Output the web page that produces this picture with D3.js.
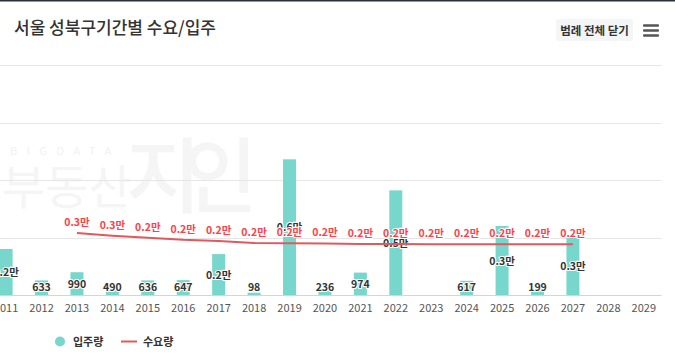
<!DOCTYPE html>
<html><head><meta charset="utf-8">
<script src="https://cdn.jsdelivr.net/npm/d3@7/dist/d3.min.js"></script>
<style>
html,body{margin:0;padding:0;background:#fff;}
svg{display:block;font-family:"Noto Sans CJK KR","Noto Sans",sans-serif;}
</style></head>
<body>
<svg id="c" width="675" height="358"></svg>
<script>
const years = ["2011","2012","2013","2014","2015","2016","2017","2018","2019","2020","2021","2022","2023","2024","2025","2026","2027","2028","2029"];
const supply = [2000, 633, 990, 490, 636, 647, 1780, 98, 5900, 236, 974, 4550, null, 617, 3000, 199, 2560, null, null];
const demand = [null, null, 2700, 2580, 2490, 2400, 2350, 2260, 2250, 2240, 2220, 2220, 2210, 2210, 2210, 2210, 2210, null, null];
const yTicks = [0, 2500, 5000, 7500, 10000];
const title = "서울 성북구기간별 수요/입주";
const legendNames = ["입주량", "수요량"];

const svg = d3.select("#c");
const W = 675, H = 358;
const pTop = 65, pBottom = 295, pLeft = -11.6, pRight = 661.5;

const x = d3.scaleBand().domain(years).range([pLeft, pRight]);
const y = d3.scaleLinear().domain([0, 10000]).range([pBottom, pTop]);
const fmt = v => v >= 1000 ? (v/10000).toFixed(1) + "만" : String(v);

// top dark line
svg.append("rect").attr("x",0).attr("y",0).attr("width",W).attr("height",1.5).attr("fill","#2b2f3a");

// title
svg.append("text").attr("x",14).attr("y",34).attr("font-size",17).attr("fill","#333")
  .attr("font-weight",500).text(title);

// button
svg.append("rect").attr("x",556).attr("y",19).attr("width",77).attr("height",22).attr("rx",3).attr("fill","#f4f5f6");
svg.append("text").attr("x",594.5).attr("y",34.5).attr("text-anchor","middle").attr("font-size",11.5)
  .attr("font-weight",700).attr("fill","#333").text("범례 전체 닫기");
[25.5,30.5,35.5].forEach(yy=>svg.append("rect").attr("x",643).attr("y",yy-1.3).attr("width",16).attr("height",2.6).attr("rx",1).attr("fill","#555"));

// watermark
const wm = svg.append("g").attr("fill","#f5f5f5");
wm.append("text").attr("x",10).attr("y",155).attr("font-size",11).attr("letter-spacing",9.5).attr("fill","#f1f1f1").text("BIGDATA");
wm.append("text").attr("x",2).attr("y",204).attr("font-size",47).attr("font-weight",400).text("부동산");
wm.append("text").attr("x",126).attr("y",206).attr("font-size",82).attr("font-weight",500).attr("textLength",132).text("지인");

// grid
svg.append("g").selectAll("line").data(yTicks.slice(1)).join("line")
  .attr("x1",0).attr("x2",pRight).attr("y1",d=>Math.round(y(d))+0.5).attr("y2",d=>Math.round(y(d))+0.5)
  .attr("stroke","#e6e6e6").attr("stroke-width",1);

// bars
const bw = 13;
const sData = years.map((yr,i)=>({yr, v:supply[i]})).filter(d=>d.v!=null);
svg.append("g").selectAll("rect").data(sData).join("rect")
  .attr("x",d=>x(d.yr)+x.bandwidth()/2-bw/2).attr("width",bw)
  .attr("y",d=>y(d.v)).attr("height",d=>pBottom-y(d.v)).attr("fill","#78d7cc");

// baseline
svg.append("line").attr("x1",0).attr("x2",pRight).attr("y1",pBottom+0.5).attr("y2",pBottom+0.5).attr("stroke","#ccd6eb");

// x axis labels
const xAxis = d3.axisBottom(x).tickSize(0).tickPadding(9);
const gx = svg.append("g").attr("transform",`translate(0,${pBottom})`).call(xAxis);
gx.select(".domain").remove();
gx.selectAll("text").attr("font-size",11).attr("fill","#555").attr("font-family","'Noto Sans CJK KR','Noto Sans',sans-serif");

// bar labels
svg.append("g").selectAll("text").data(sData).join("text")
  .attr("x",d=>x(d.yr)+x.bandwidth()/2)
  .attr("y",d=>Math.min((y(d.v)+pBottom)/2, pBottom-8)+4)
  .attr("text-anchor","middle").attr("font-size",10.5).attr("font-weight",700)
  .attr("fill","#333").attr("stroke","#fff").attr("stroke-width",2.2).attr("paint-order","stroke")
  .attr("stroke-linejoin","round").text(d=>fmt(d.v));

// demand line
const dData = years.map((yr,i)=>({yr, v:demand[i]})).filter(d=>d.v!=null);
const line = d3.line().x(d=>x(d.yr)+x.bandwidth()/2).y(d=>y(d.v));
svg.append("path").datum(dData).attr("d",line).attr("fill","none").attr("stroke","#e2585c").attr("stroke-width",2);

svg.append("g").selectAll("text").data(dData).join("text")
  .attr("x",d=>x(d.yr)+x.bandwidth()/2)
  .attr("y",d=>y(d.v)-7)
  .attr("text-anchor","middle").attr("font-size",10.5).attr("font-weight",700)
  .attr("fill","#ff4049").attr("stroke","#fff").attr("stroke-width",2.2).attr("paint-order","stroke")
  .attr("stroke-linejoin","round").text(d=>fmt(d.v));

// legend
svg.append("circle").attr("cx",60).attr("cy",341.5).attr("r",5).attr("fill","#78d7cc");
svg.append("text").attr("x",73).attr("y",345.5).attr("font-size",11).attr("font-weight",700).attr("fill","#333").text(legendNames[0]);
svg.append("line").attr("x1",121).attr("x2",137).attr("y1",341.5).attr("y2",341.5).attr("stroke","#e2585c").attr("stroke-width",2);
svg.append("text").attr("x",143).attr("y",345.5).attr("font-size",11).attr("font-weight",700).attr("fill","#333").text(legendNames[1]);
</script>
</body></html>
